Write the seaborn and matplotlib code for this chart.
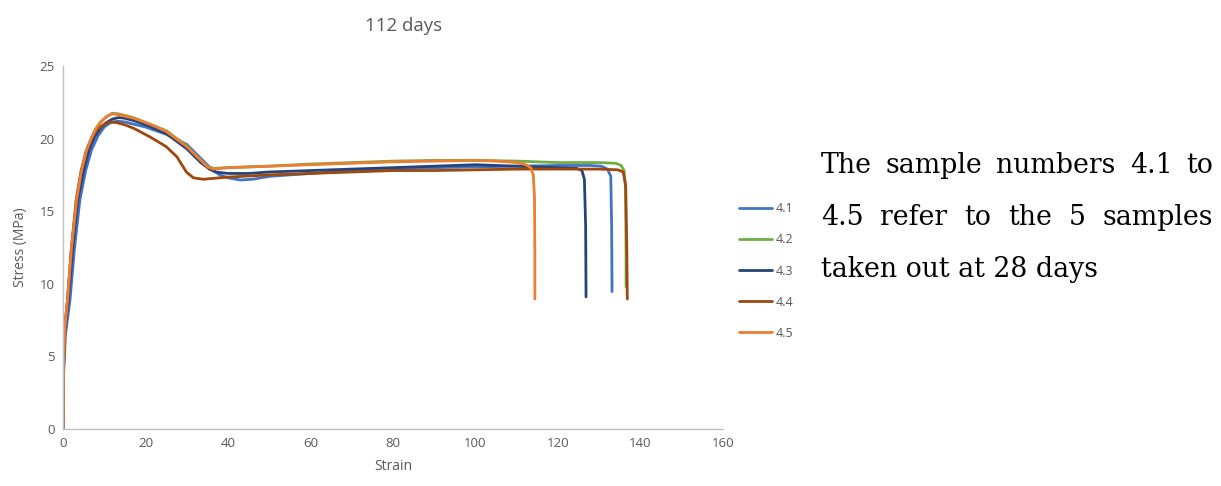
import matplotlib
matplotlib.use("Agg")
import matplotlib.pyplot as plt
import seaborn as sns
import pandas as pd
from matplotlib.lines import Line2D

# ---------------- data ----------------
samples = ["4.1", "4.2", "4.3", "4.4", "4.5"]
colors = ["#4472C4", "#70AD47", "#264478", "#9E480E", "#ED7D31"]

strain_41 = [0, 0.1, 0.6, 1.7, 2.8, 4.1, 5.5, 6.9, 8.5, 10, 11.5, 13, 15, 17, 20, 25, 30, 33, 36, 38, 40, 43, 46, 50, 55, 60, 70, 80, 90, 100, 110, 120, 128, 130.5, 132, 132.8, 133.0, 133.1]
stress_41 = [0, 3.5, 6.5, 8.9, 12.5, 15.8, 17.8, 19.2, 20.2, 20.8, 21.1, 21.2, 21.15, 21.0, 20.8, 20.3, 19.6, 18.75, 17.9, 17.5, 17.3, 17.15, 17.2, 17.4, 17.5, 17.6, 17.8, 17.9, 18.0, 18.05, 18.1, 18.15, 18.15, 18.1, 17.9, 17.4, 14, 9.46]

strain_42 = [0, 0.1, 0.5, 1.1, 2, 3.3, 4.5, 5.7, 7, 7.8, 9, 10.5, 12, 13.5, 15, 17, 21, 25, 30, 33.4, 35, 36.5, 40, 50, 60, 70, 80, 90, 100, 110, 120, 130, 134, 135.3, 136.0, 136.4, 136.5, 136.5]
stress_42 = [0, 4.5, 7.2, 8.9, 12.3, 15.8, 17.8, 19.2, 20.1, 20.6, 21.1, 21.5, 21.75, 21.7, 21.6, 21.45, 21.0, 20.55, 19.5, 18.5, 18.1, 17.95, 18.0, 18.1, 18.25, 18.35, 18.45, 18.5, 18.5, 18.45, 18.35, 18.35, 18.3, 18.15, 17.8, 16.5, 12, 9.8]

strain_43 = [0, 0.1, 0.5, 1.3, 2.3, 3.6, 5, 6.3, 7.6, 9, 10.5, 12, 13.5, 15, 17, 21, 25, 30, 33.4, 35.5, 37, 40, 45, 50, 60, 70, 80, 90, 100, 110, 120, 124.5, 125.8, 126.4, 126.7, 126.8]
stress_43 = [0, 4.0, 7.0, 8.9, 12.3, 15.8, 17.8, 19.2, 20.1, 20.7, 21.1, 21.35, 21.45, 21.4, 21.25, 20.85, 20.35, 19.3, 18.35, 17.9, 17.7, 17.6, 17.6, 17.7, 17.8, 17.9, 18.0, 18.1, 18.2, 18.1, 18.0, 17.95, 17.8, 17.2, 14, 9.1]

strain_44 = [0, 0.1, 0.5, 1.1, 2, 3.2, 4.4, 5.6, 7, 8.5, 10, 11.5, 13, 15, 17.2, 21.2, 25, 27.6, 29.9, 31.6, 34, 36, 40, 50, 60, 70, 80, 90, 100, 110, 120, 130, 134.5, 135.8, 136.4, 136.7, 136.8]
stress_44 = [0, 4.5, 7.2, 8.9, 12.3, 15.8, 17.8, 19.1, 20.1, 20.7, 21.0, 21.15, 21.1, 20.95, 20.7, 20.1, 19.45, 18.75, 17.7, 17.3, 17.2, 17.25, 17.35, 17.5, 17.6, 17.7, 17.8, 17.8, 17.85, 17.9, 17.9, 17.9, 17.85, 17.7, 16.8, 12, 8.95]

strain_45 = [0, 0.1, 0.5, 1.1, 2, 3.3, 4.5, 5.7, 7, 7.8, 9, 10.5, 11.8, 13.5, 15, 17.2, 21, 25, 30, 33.4, 35, 36.5, 40, 50, 60, 70, 80, 90, 100, 105, 110, 112.2, 113.4, 114.0, 114.3, 114.4, 114.4]
stress_45 = [0, 4.5, 7.2, 8.9, 12.3, 15.8, 17.8, 19.2, 20.1, 20.6, 21.1, 21.5, 21.7, 21.65, 21.55, 21.4, 21.0, 20.5, 19.45, 18.5, 18.05, 17.9, 18.0, 18.1, 18.2, 18.3, 18.4, 18.45, 18.5, 18.45, 18.35, 18.2, 18.0, 17.5, 16, 12, 8.95]

x_ticks = [0, 20, 40, 60, 80, 100, 120, 140, 160]
y_ticks = [0, 5, 10, 15, 20, 25]

title = "112 days"
x_label = "Strain"
y_label = "Stress (MPa)"
note_lines = ["The sample numbers 4.1 to", "4.5 refer to the 5 samples", "taken out at 28 days"]

# ---------------- build frame ----------------
series = [(strain_41, stress_41), (strain_42, stress_42), (strain_43, stress_43),
          (strain_44, stress_44), (strain_45, stress_45)]
frames = []
for name, (sx, sy) in zip(samples, series):
    frames.append(pd.DataFrame({"Strain": sx, "Stress": sy, "Sample": name}))
df = pd.concat(frames, ignore_index=True)

sns.set_theme(style="white")
plt.rcParams["font.family"] = ["Open Sans", "DejaVu Sans"]
gray = "#595959"

fig = plt.figure(figsize=(12.21, 4.86), dpi=100)
ax = fig.add_axes([63 / 1221, 1 - 429 / 486, (723 - 63) / 1221, (429 - 66) / 486])

sns.lineplot(data=df, x="Strain", y="Stress", hue="Sample", units="Sample",
             estimator=None, sort=False, palette=dict(zip(samples, colors)),
             linewidth=2.0, ax=ax, legend=False)
for ln in ax.get_lines():
    ln.set_solid_joinstyle("round")
    ln.set_solid_capstyle("round")

ax.set_xlim(0, 160)
ax.set_ylim(0, 25)
ax.set_xticks(x_ticks)
ax.set_yticks(y_ticks)
ax.tick_params(axis="both", length=0, labelsize=9.5, labelcolor=gray, pad=6)
for s in ["top", "right"]:
    ax.spines[s].set_visible(False)
for s in ["left", "bottom"]:
    ax.spines[s].set_color("#BFBFBF")
    ax.spines[s].set_linewidth(1.0)
ax.set_xlabel(x_label, fontsize=10, color=gray, labelpad=6)
ax.set_ylabel(y_label, fontsize=10, color=gray, labelpad=8)
ax.grid(False)

fig.text(404 / 1221, 1 - 26 / 486, title, ha="center", va="center", fontsize=13.5, color=gray)

# legend
handles = [Line2D([0], [0], color=c, lw=2.0) for c in colors]
leg = fig.legend(handles, samples, loc="center left", bbox_to_anchor=(728 / 1221, 1 - 271 / 486),
                 frameon=False, fontsize=9, labelspacing=1.45, handlelength=2.6,
                 handletextpad=0.3, labelcolor=gray)

# justified note text
serif = ["DejaVu Serif"]
fig.canvas.draw()
renderer = fig.canvas.get_renderer()
x_left, x_right = 821 / 1221, 1213 / 1221
baselines = [173, 225, 277]
fs = 19
probe = fig.text(0, 0, note_lines[2], fontsize=fs, family=serif)
w = probe.get_window_extent(renderer).width
probe.remove()
fs = fs * 276 / w
for i, (line, yb) in enumerate(zip(note_lines, baselines)):
    yf = 1 - yb / 486
    if i == len(note_lines) - 1:
        fig.text(x_left, yf, line, fontsize=fs, family=serif, color="black", va="baseline")
        continue
    words = line.split(" ")
    objs = [fig.text(0, yf, wd, fontsize=fs, family=serif, color="black", va="baseline") for wd in words]
    widths = [o.get_window_extent(renderer).width / 1221 for o in objs]
    gap = ((x_right - x_left) - sum(widths)) / (len(words) - 1)
    x = x_left
    for o, wd in zip(objs, widths):
        o.set_x(x)
        x += wd + gap

fig.savefig("out.png", dpi=100)
